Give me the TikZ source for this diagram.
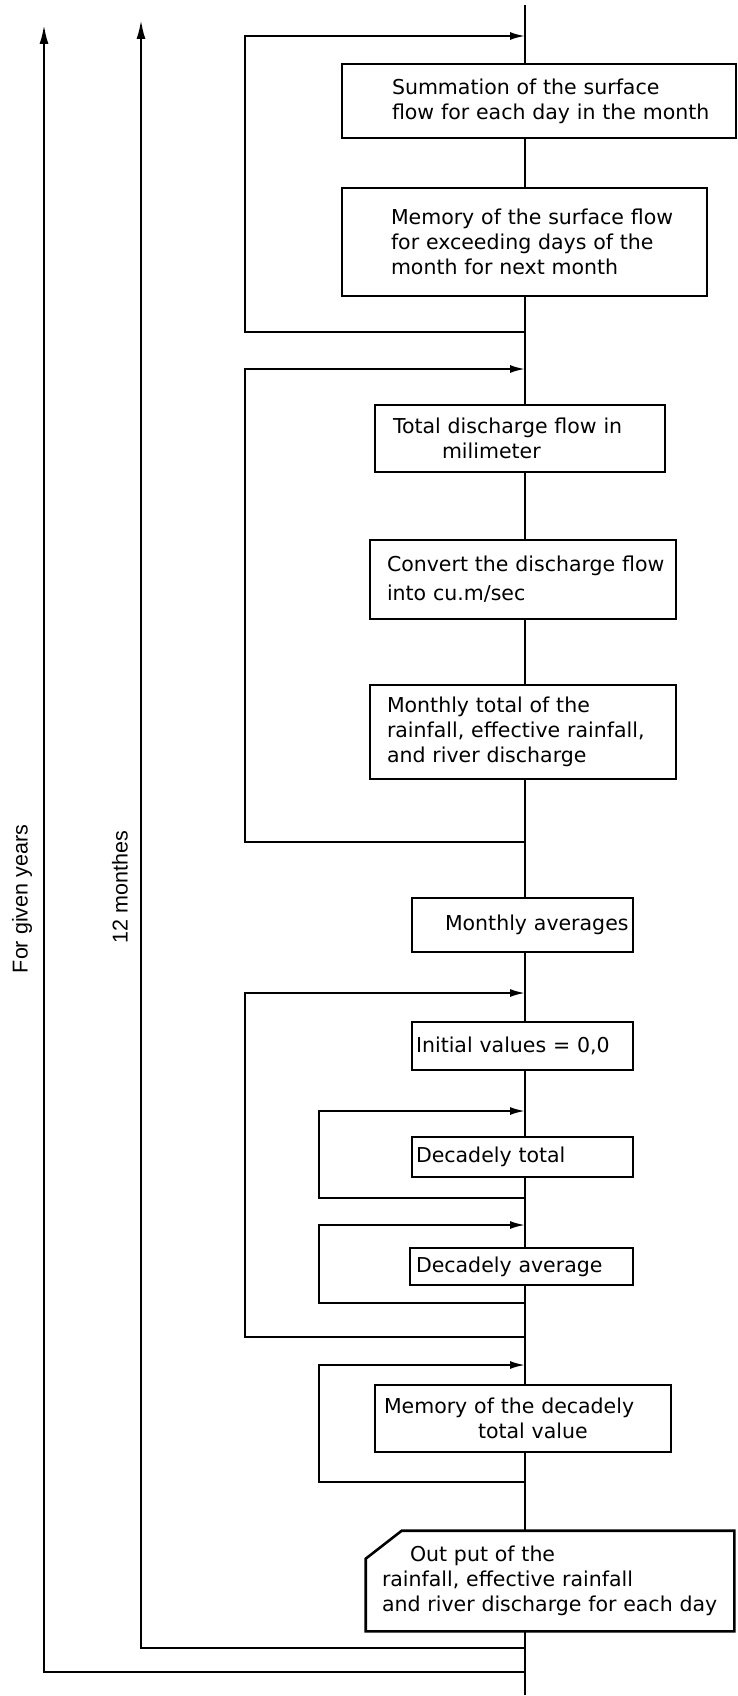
\documentclass[tikz,border=0pt]{standalone}
\usepackage{fontspec}
\setmainfont{DejaVu Sans}
\newfontfamily\lblfont{Liberation Sans}
\usetikzlibrary{arrows.meta,calc}

\tikzset{
  flowline/.style={line width=2pt},
  procbox/.style={draw, line width=2.6pt, rectangle, align=left,
    inner xsep=2pt, inner ysep=0pt,
    font=\fontsize{20.5}{25}\selectfont},
  loopline/.style={line width=2pt, -{Latex[length=15pt,width=8pt]}},
  sidearrow/.style={line width=2.2pt, -{Latex[length=19pt,width=9pt]}},
  sidelabel/.style={rotate=90, inner sep=0pt,
    font=\lblfont\fontsize{21.5}{24}\selectfont}
}

\begin{document}
\begin{tikzpicture}[x=1pt,y=-1pt]
\useasboundingbox (0,0) rectangle (738,1696);

% ends of the main flow line
\coordinate (top) at (525,5);
\coordinate (bot) at (525,1695);

% processing steps
\node[procbox, minimum width=394pt, minimum height=74pt, text width=390pt] (b1) at (539,101)
  {\hspace*{48pt}Summation of the surface\\\hspace*{48pt}flow for each day in the month};
\node[procbox, minimum width=365pt, minimum height=108pt, text width=361pt] (b2) at (524.5,242)
  {\hspace*{47pt}Memory of the surface flow\\\hspace*{47pt}for exceeding days of the\\\hspace*{47pt}month for next month};
\node[procbox, minimum width=290pt, minimum height=67pt, text width=286pt] (b3) at (520,438.5)
  {\hspace*{16pt}Total discharge flow in\\\hspace*{65pt}milimeter};
\node[procbox, minimum width=306pt, minimum height=79pt, text width=302pt,
      font=\fontsize{20.5}{29}\selectfont] (b4) at (523,579.5)
  {\hspace*{15pt}Convert the discharge flow\\\hspace*{15pt}into cu.m/sec};
\node[procbox, minimum width=306pt, minimum height=94pt, text width=302pt] (b5) at (523,732)
  {\hspace*{15pt}Monthly total of the\\\hspace*{15pt}rainfall, effective rainfall,\\\hspace*{15pt}and river discharge};
\node[procbox, minimum width=221pt, minimum height=54pt, text width=217pt] (b6) at (522.5,925)
  {\hspace*{31pt}Monthly averages};
\node[procbox, minimum width=221pt, minimum height=48pt, text width=217pt] (b7) at (522.5,1046)
  {\hspace*{2pt}Initial values = 0,0};
\node[procbox, minimum width=221pt, minimum height=40pt, text width=217pt] (b8) at (522.5,1157)
  {\hspace*{2pt}Decadely total};
\node[procbox, minimum width=223pt, minimum height=37pt, text width=219pt] (b9) at (521.5,1266.5)
  {\hspace*{4pt}Decadely average};
\node[procbox, minimum width=296pt, minimum height=67pt, text width=292pt] (b10) at (523,1418.5)
  {\hspace*{7pt}Memory of the decadely\\\hspace*{101pt}total value};
\node[procbox, draw=none, minimum width=366pt, minimum height=98pt, text width=362pt] (b11) at (550,1581)
  {\hspace*{41pt}Out put of the\\\hspace*{13pt}rainfall, effective rainfall\\\hspace*{13pt}and river discharge for each day};
% output step with its cut top-left corner
\draw[line width=2.6pt, line join=miter]
  ([xshift=36pt]b11.north west) -- (b11.north east) -- (b11.south east)
  -- (b11.south west) -- ([yshift=-28pt]b11.north west) -- cycle;

% main flow line through all steps
\draw[flowline] (top) -- (b1.north -| top);
\draw[flowline] (b1.south -| top) -- (b2.north -| top);
\draw[flowline] (b2.south -| top) -- (b3.north -| top);
\draw[flowline] (b3.south -| top) -- (b4.north -| top);
\draw[flowline] (b4.south -| top) -- (b5.north -| top);
\draw[flowline] (b5.south -| top) -- (b6.north -| top);
\draw[flowline] (b6.south -| top) -- (b7.north -| top);
\draw[flowline] (b7.south -| top) -- (b8.north -| top);
\draw[flowline] (b8.south -| top) -- (b9.north -| top);
\draw[flowline] (b9.south -| top) -- (b10.north -| top);
\draw[flowline] (b10.south -| top) -- (b11.north -| top);
\draw[flowline] (b11.south -| top) -- (bot);

% return points of the loops on the main line
\coordinate (l1in)  at (525,36);   \coordinate (l1out) at (525,332);
\coordinate (l2in)  at (525,369);  \coordinate (l2out) at (525,842);
\coordinate (l3in)  at (525,993);  \coordinate (l3out) at (525,1337);
\coordinate (iain)  at (525,1111); \coordinate (iaout) at (525,1198);
\coordinate (ibin)  at (525,1225); \coordinate (ibout) at (525,1303);
\coordinate (icin)  at (525,1365); \coordinate (icout) at (525,1482);
\coordinate (mout)  at (525,1648); \coordinate (yout)  at (525,1672);
\coordinate (mtop)  at (141,20);   \coordinate (ytop)  at (44,25);

% outer loops
\draw[loopline] (l1out) -- (245,332) -- (245,36) -- (l1in);
\draw[loopline] (l2out) -- (245,842) -- (245,369) -- (l2in);
\draw[loopline] (l3out) -- (245,1337) -- (245,993) -- (l3in);
% inner loops
\draw[loopline] (iaout) -- (319,1198) -- (319,1111) -- (iain);
\draw[loopline] (ibout) -- (319,1303) -- (319,1225) -- (ibin);
\draw[loopline] (icout) -- (319,1482) -- (319,1365) -- (icin);

% month and year repetitions
\draw[sidearrow] (mout) -| (mtop);
\draw[sidearrow] (yout) -| (ytop);
\node[sidelabel] (lblm) at (120,887) {12 monthes};
\node[sidelabel] (lbly) at (22,899) {For given years};
\end{tikzpicture}
\end{document}
